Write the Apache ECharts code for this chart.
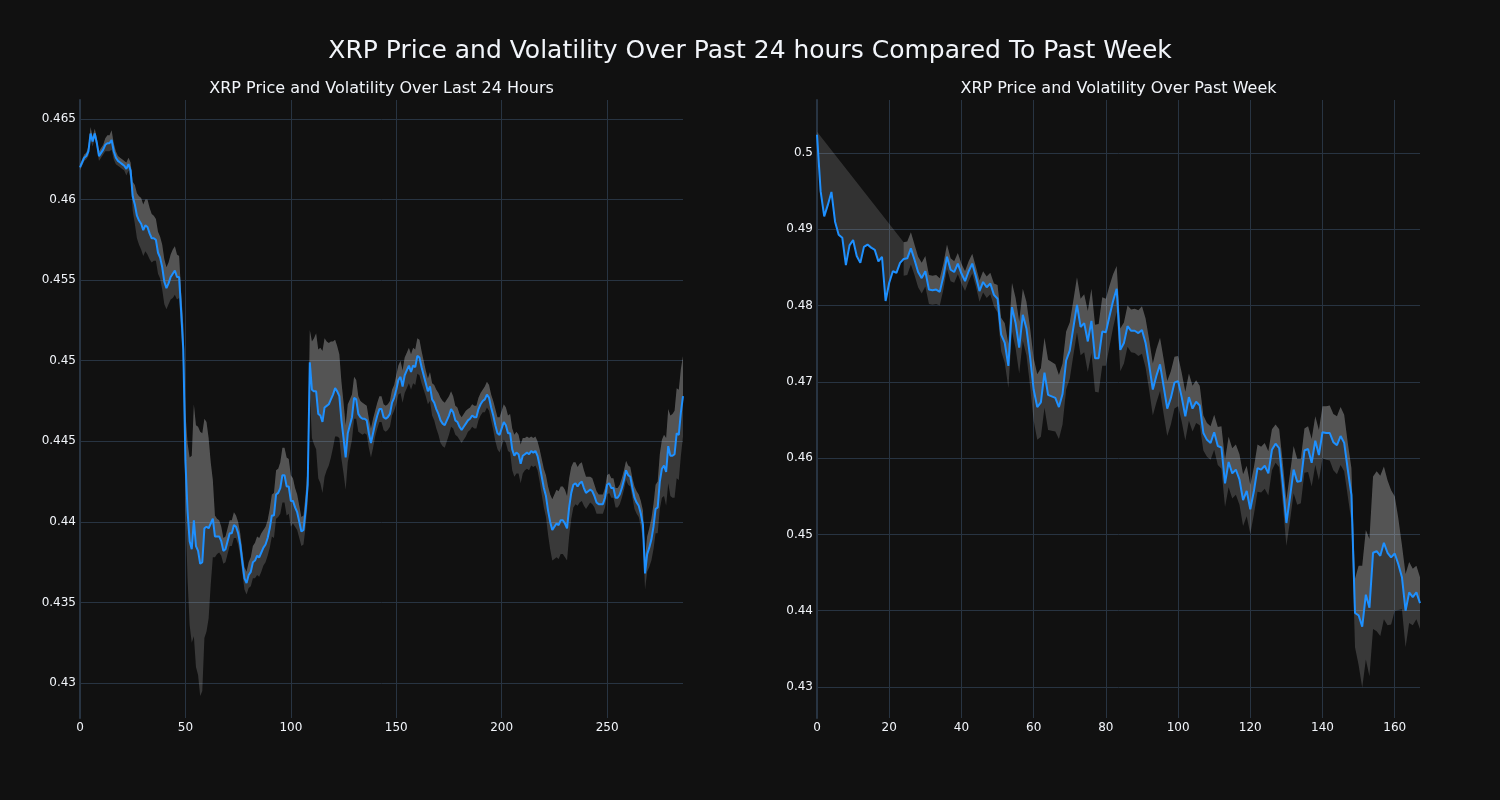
<!DOCTYPE html>
<html>
<head>
<meta charset="utf-8">
<script src="https://cdn.jsdelivr.net/npm/echarts@6/dist/echarts.min.js"></script>
<style>
html,body{margin:0;padding:0;background:#111111;}
#c{width:1500px;height:800px;}
</style>
</head>
<body>
<div id="c"></div>
<script>
// ---- Data ----
const mainTitle = 'XRP Price and Volatility Over Past 24 hours Compared To Past Week';
const dayTitle = 'XRP Price and Volatility Over Last 24 Hours';
const weekTitle = 'XRP Price and Volatility Over Past Week';

// 24h price, 5-minute steps (index 0..286)
const dayPrice = [
0.4620,0.4623,0.4626,0.4627,0.4630,0.4641,0.4636,0.4641,0.4635,0.4627,
0.4629,0.4631,0.4634,0.4635,0.4635,0.4637,0.4630,0.4626,0.4624,0.4623,
0.4622,0.4621,0.4619,0.4622,0.4618,0.4602,0.4597,0.4590,0.4587,0.4585,
0.4581,0.4584,0.4583,0.4579,0.4576,0.4576,0.4575,0.4567,0.4564,0.4558,
0.4549,0.4545,0.4548,0.4552,0.4554,0.4556,0.4552,0.4552,0.4530,0.4507,
0.4438,0.4407,0.4388,0.4383,0.4401,0.4385,0.4382,0.4374,0.4375,0.4396,
0.4397,0.4396,0.4399,0.4402,0.4391,0.4391,0.4391,0.4388,0.4382,0.4383,
0.4388,0.4393,0.4393,0.4398,0.4397,0.4393,0.4386,0.4375,0.4365,0.4362,
0.4367,0.4369,0.4375,0.4376,0.4379,0.4378,0.4381,0.4384,0.4386,0.4390,
0.4396,0.4404,0.4404,0.4417,0.4418,0.4421,0.4429,0.4429,0.4422,0.4422,
0.4413,0.4413,0.4409,0.4406,0.4400,0.4394,0.4395,0.4407,0.4423,0.4499,
0.4482,0.4481,0.4481,0.4467,0.4466,0.4462,0.4471,0.4472,0.4473,0.4476,
0.4479,0.4483,0.4481,0.4478,0.4463,0.4452,0.4440,0.4455,0.4460,0.4465,
0.4477,0.4476,0.4467,0.4465,0.4464,0.4464,0.4463,0.4455,0.4449,0.4455,
0.4461,0.4466,0.4470,0.4470,0.4465,0.4464,0.4465,0.4467,0.4474,0.4477,
0.4482,0.4488,0.4490,0.4484,0.4491,0.4494,0.4497,0.4493,0.4497,0.4496,
0.4503,0.4502,0.4496,0.4491,0.4486,0.4481,0.4484,0.4476,0.4474,0.4470,
0.4467,0.4463,0.4461,0.4460,0.4463,0.4466,0.4470,0.4468,0.4463,0.4462,
0.4459,0.4457,0.4459,0.4461,0.4463,0.4464,0.4466,0.4465,0.4465,0.4470,
0.4473,0.4475,0.4476,0.4479,0.4477,0.4471,0.4466,0.4460,0.4455,0.4454,
0.4458,0.4462,0.4460,0.4455,0.4455,0.4445,0.4441,0.4443,0.4442,0.4436,
0.4441,0.4442,0.4443,0.4442,0.4444,0.4443,0.4444,0.4441,0.4435,0.4428,
0.4421,0.4416,0.4407,0.4400,0.4395,0.4397,0.4399,0.4398,0.4401,0.4401,
0.4399,0.4396,0.4409,0.4418,0.4423,0.4424,0.4422,0.4424,0.4425,0.4421,
0.4418,0.4419,0.4420,0.4419,0.4416,0.4412,0.4411,0.4411,0.4411,0.4415,
0.4423,0.4424,0.4421,0.4421,0.4415,0.4415,0.4417,0.4421,0.4426,0.4432,
0.4429,0.4428,0.4421,0.4415,0.4412,0.4410,0.4405,0.4398,0.4368,0.4380,
0.4384,0.4389,0.4397,0.4408,0.4409,0.4425,0.4433,0.4435,0.4431,0.4447,
0.4441,0.4441,0.4442,0.4455,0.4454,0.4468,0.4478
];

// 24h volatility half-width of the band
const dayVol = [
0.0002,0.0002,0.0002,0.0002,0.0003,0.0004,0.0003,0.0003,0.0003,0.0003,
0.0003,0.0003,0.0004,0.0005,0.0005,0.0006,0.0005,0.0004,0.0003,0.0003,
0.0003,0.0003,0.0004,0.0004,0.0005,0.0009,0.0012,0.0014,0.0015,0.0016,
0.0016,0.0016,0.0017,0.0016,0.0015,0.0014,0.0013,0.0013,0.0013,0.0014,
0.0014,0.0013,0.0013,0.0014,0.0015,0.0015,0.0014,0.0013,0.0012,0.0015,
0.0030,0.0042,0.0052,0.0058,0.0072,0.0075,0.0077,0.0082,0.0080,0.0068,
0.0065,0.0056,0.0038,0.0024,0.0013,0.0011,0.0010,0.0009,0.0008,0.0008,
0.0008,0.0008,0.0008,0.0008,0.0007,0.0007,0.0007,0.0007,0.0007,0.0007,
0.0008,0.0009,0.0010,0.0011,0.0012,0.0012,0.0012,0.0011,0.0011,0.0011,
0.0012,0.0013,0.0014,0.0015,0.0015,0.0016,0.0017,0.0017,0.0018,0.0017,
0.0016,0.0014,0.0012,0.0011,0.0010,0.0009,0.0009,0.0010,0.0012,0.0020,
0.0030,0.0033,0.0036,0.0040,0.0042,0.0044,0.0043,0.0040,0.0038,0.0036,
0.0033,0.0030,0.0028,0.0026,0.0024,0.0022,0.0020,0.0018,0.0016,0.0014,
0.0013,0.0012,0.0011,0.0010,0.0010,0.0009,0.0009,0.0009,0.0009,0.0009,
0.0008,0.0008,0.0008,0.0008,0.0008,0.0008,0.0008,0.0008,0.0008,0.0008,
0.0009,0.0009,0.0010,0.0010,0.0011,0.0011,0.0011,0.0011,0.0011,0.0011,
0.0011,0.0011,0.0010,0.0009,0.0008,0.0008,0.0009,0.0010,0.0011,0.0012,
0.0013,0.0014,0.0014,0.0014,0.0013,0.0012,0.0011,0.0010,0.0009,0.0009,
0.0008,0.0008,0.0008,0.0008,0.0007,0.0007,0.0007,0.0007,0.0007,0.0007,
0.0007,0.0007,0.0008,0.0008,0.0008,0.0008,0.0009,0.0010,0.0010,0.0011,
0.0011,0.0011,0.0011,0.0011,0.0012,0.0013,0.0013,0.0013,0.0012,0.0012,
0.0011,0.0010,0.0010,0.0010,0.0009,0.0009,0.0009,0.0009,0.0010,0.0011,
0.0012,0.0013,0.0015,0.0017,0.0019,0.0020,0.0021,0.0021,0.0021,0.0021,
0.0021,0.0020,0.0018,0.0016,0.0014,0.0013,0.0012,0.0012,0.0012,0.0011,
0.0010,0.0009,0.0008,0.0008,0.0007,0.0007,0.0006,0.0006,0.0006,0.0006,
0.0006,0.0006,0.0006,0.0006,0.0006,0.0006,0.0006,0.0006,0.0006,0.0006,
0.0006,0.0006,0.0006,0.0007,0.0007,0.0007,0.0008,0.0009,0.0010,0.0011,
0.0012,0.0013,0.0014,0.0015,0.0016,0.0017,0.0018,0.0019,0.0021,0.0023,
0.0025,0.0026,0.0027,0.0028,0.0028,0.0027,0.0025
];

// Past week price, hourly steps (index 0..167)
const weekPrice = [
0.5024,0.4950,0.4917,0.4932,0.4949,0.4910,0.4893,0.4889,0.4853,0.4879,
0.4886,0.4865,0.4856,0.4877,0.4880,0.4876,0.4873,0.4858,0.4864,0.4806,
0.4830,0.4845,0.4843,0.4856,0.4861,0.4862,0.4875,0.4860,0.4844,0.4836,
0.4845,0.4821,0.4820,0.4821,0.4818,0.4838,0.4864,0.4847,0.4844,0.4855,
0.4842,0.4832,0.4845,0.4855,0.4838,0.4819,0.4831,0.4824,0.4829,0.4814,
0.4809,0.4762,0.4751,0.4721,0.4798,0.4777,0.4745,0.4788,0.4770,0.4733,
0.4690,0.4667,0.4673,0.4712,0.4683,0.4681,0.4679,0.4667,0.4684,0.4728,
0.4741,0.4771,0.4801,0.4772,0.4777,0.4753,0.4780,0.4731,0.4731,0.4766,
0.4765,0.4786,0.4806,0.4822,0.4742,0.4751,0.4773,0.4767,0.4767,0.4764,
0.4768,0.4751,0.4722,0.4690,0.4708,0.4723,0.4694,0.4665,0.4679,0.4699,
0.4701,0.4680,0.4655,0.4680,0.4665,0.4674,0.4669,0.4633,0.4624,0.4620,
0.4634,0.4616,0.4614,0.4567,0.4595,0.4580,0.4585,0.4572,0.4545,0.4557,
0.4533,0.4557,0.4587,0.4585,0.4590,0.4580,0.4611,0.4619,0.4613,0.4567,
0.4515,0.4549,0.4585,0.4569,0.4570,0.4610,0.4612,0.4594,0.4623,0.4604,
0.4634,0.4633,0.4633,0.4621,0.4617,0.4629,0.4620,0.4585,0.4552,0.4397,
0.4394,0.4379,0.4421,0.4404,0.4476,0.4478,0.4472,0.4489,0.4476,0.4470,
0.4475,0.4461,0.4444,0.4400,0.4424,0.4418,0.4424,0.4410
];

// Past week volatility half-width (null where the rolling window is not yet full)
const weekVol = [
0.0004,null,null,null,null,null,null,null,null,null,
null,null,null,null,null,null,null,null,null,null,
null,null,null,null,0.0022,0.0022,0.0021,0.0020,0.0020,0.0020,
0.0020,0.0019,0.0019,0.0019,0.0018,0.0017,0.0016,0.0015,0.0014,0.0014,
0.0013,0.0013,0.0013,0.0013,0.0013,0.0014,0.0014,0.0014,0.0014,0.0015,
0.0018,0.0022,0.0026,0.0029,0.0032,0.0033,0.0034,0.0034,0.0035,0.0038,
0.0041,0.0043,0.0045,0.0046,0.0046,0.0045,0.0044,0.0042,0.0040,0.0038,
0.0037,0.0036,0.0036,0.0037,0.0038,0.0040,0.0042,0.0044,0.0045,0.0045,
0.0044,0.0040,0.0035,0.0030,0.0028,0.0027,0.0027,0.0028,0.0029,0.0030,
0.0031,0.0032,0.0033,0.0034,0.0035,0.0035,0.0036,0.0036,0.0035,0.0034,
0.0033,0.0032,0.0032,0.0031,0.0030,0.0028,0.0026,0.0023,0.0022,0.0022,
0.0023,0.0025,0.0028,0.0031,0.0033,0.0033,0.0033,0.0033,0.0034,0.0033,
0.0032,0.0031,0.0031,0.0030,0.0030,0.0029,0.0027,0.0025,0.0025,0.0027,
0.0030,0.0031,0.0031,0.0030,0.0029,0.0029,0.0030,0.0031,0.0032,0.0033,
0.0034,0.0035,0.0036,0.0037,0.0038,0.0038,0.0037,0.0035,0.0035,0.0045,
0.0065,0.0080,0.0085,0.0090,0.0100,0.0105,0.0105,0.0100,0.0095,0.0088,
0.0075,0.0060,0.0042,0.0048,0.0040,0.0037,0.0035,0.0034
];

// ---- Styling ----
const TEXT = '#f2f5fa';
const GRIDC = '#283442';
const LINEC = '#1e90ff';
const FONT = '"DejaVu Sans", sans-serif';

function bandSeries(price, vol, xi, yi) {
  return {
    type: 'custom',
    xAxisIndex: xi, yAxisIndex: yi,
    clip: true, silent: true, z: 1,
    data: [[0, price[0]]],
    renderItem: function (params, api) {
      const children = [];
      // full band (lower..upper) over contiguous defined runs
      const runs = []; let run = [];
      for (let i = 0; i < price.length; i++) {
        if (vol[i] == null) { if (run.length) runs.push(run); run = []; }
        else run.push(i);
      }
      if (run.length) runs.push(run);
      runs.forEach(function (r) {
        if (r.length < 2) return;
        const pts = [];
        r.forEach(function (i) { pts.push(api.coord([i, price[i] + vol[i]])); });
        for (let k = r.length - 1; k >= 0; k--) { const i = r[k]; pts.push(api.coord([i, price[i] - vol[i]])); }
        children.push({ type: 'polygon', shape: { points: pts }, style: { fill: 'rgba(255,255,255,0.17)' } });
      });
      // price..upper fill (connects across gaps)
      const idx = [];
      for (let i = 0; i < price.length; i++) if (vol[i] != null) idx.push(i);
      const ptsB = idx.map(function (i) { return api.coord([i, price[i] + vol[i]]); });
      for (let i = idx[idx.length - 1]; i >= idx[0]; i--) ptsB.push(api.coord([i, price[i]]));
      children.push({ type: 'polygon', shape: { points: ptsB }, style: { fill: 'rgba(255,255,255,0.14)' } });
      return { type: 'group', children: children };
    }
  };
}

function xAxisCfg(gi, max, interval) {
  return {
    type: 'value', gridIndex: gi, min: 0, max: max, interval: interval,
    axisLine: { show: false }, axisTick: { show: false },
    axisLabel: { color: TEXT, fontSize: 12, fontFamily: FONT, margin: 4, showMaxLabel: false },
    splitLine: { show: true, showMinLine: false, showMaxLine: false, lineStyle: { color: GRIDC, width: 1 } }
  };
}
function yAxisCfg(gi, min, max) {
  return {
    type: 'value', gridIndex: gi, min: min, max: max, splitNumber: 8,
    axisLine: { show: true, onZero: false, lineStyle: { color: GRIDC, width: 2 } },
    axisTick: { show: false },
    axisLabel: { color: TEXT, fontSize: 12, fontFamily: FONT, margin: 4, showMinLabel: false, showMaxLabel: false },
    splitLine: { show: true, showMinLine: false, showMaxLine: false, lineStyle: { color: GRIDC, width: 1 } }
  };
}

const chart = echarts.init(document.getElementById('c'), null, { renderer: 'canvas' });
chart.setOption({
  backgroundColor: '#111111',
  animation: false,
  textStyle: { fontFamily: FONT },
  graphic: [
    { type: 'text', x: 750, y: 51, style: { text: mainTitle, fill: TEXT, font: '25px ' + FONT, textAlign: 'center', align: 'center', textVerticalAlign: 'middle', verticalAlign: 'middle' } },
    { type: 'text', x: 381.5, y: 89, style: { text: dayTitle, fill: TEXT, font: '16px ' + FONT, textAlign: 'center', align: 'center', textVerticalAlign: 'middle', verticalAlign: 'middle' } },
    { type: 'text', x: 1118.5, y: 89, style: { text: weekTitle, fill: TEXT, font: '16px ' + FONT, textAlign: 'center', align: 'center', textVerticalAlign: 'middle', verticalAlign: 'middle' } }
  ],
  grid: [
    { left: 80, right: 817, top: 100, bottom: 82, containLabel: false },
    { left: 817, right: 80, top: 100, bottom: 82, containLabel: false }
  ],
  xAxis: [ xAxisCfg(0, dayPrice.length - 1, 50), xAxisCfg(1, weekPrice.length - 1, 20) ],
  yAxis: [ yAxisCfg(0, 0.42783, 0.46618), yAxisCfg(1, 0.42594, 0.50695) ],
  series: [
    bandSeries(dayPrice, dayVol, 0, 0),
    bandSeries(weekPrice, weekVol, 1, 1),
    { type: 'line', xAxisIndex: 0, yAxisIndex: 0, z: 3, showSymbol: false, symbol: 'none',
      lineStyle: { color: LINEC, width: 2 }, data: dayPrice.map(function (v, i) { return [i, v]; }) },
    { type: 'line', xAxisIndex: 1, yAxisIndex: 1, z: 3, showSymbol: false, symbol: 'none',
      lineStyle: { color: LINEC, width: 2 }, data: weekPrice.map(function (v, i) { return [i, v]; }) }
  ]
});
</script>
</body>
</html>
